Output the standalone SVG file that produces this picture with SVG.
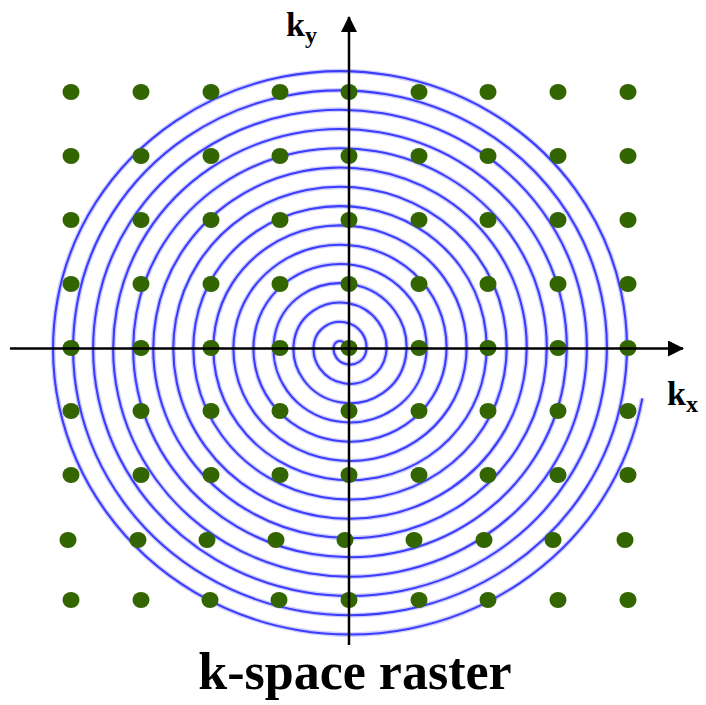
<svg xmlns="http://www.w3.org/2000/svg" width="706" height="705" viewBox="0 0 706 705">
<defs>
<style>
.halo{fill:none;stroke:#cfcfff;stroke-width:4.6}
.core{fill:none;stroke:#3c3cff;stroke-width:2}
.dot{fill:#336600}
.axis{stroke:#000;stroke-width:2.5;fill:none}
.lbl{font-family:"Liberation Serif","Times New Roman",serif;font-weight:bold;fill:#000}
</style>
<marker id="arr" viewBox="0 0 16 16" refX="15" refY="8" markerWidth="16" markerHeight="16" markerUnits="userSpaceOnUse" orient="auto">
<path d="M0,0 L16,8 L0,16 z" fill="#000"/>
</marker>
<path id="sp" d="M1.275,0 A6,6 0 0 0 -10.725,0 A15.45,15.45 0 0 0 20.175,0 A24.9,24.9 0 0 0 -29.625,0 A34.35,34.35 0 0 0 39.075,0 A43.8,43.8 0 0 0 -48.525,0 A53.25,53.25 0 0 0 57.975,0 A62.7,62.7 0 0 0 -67.425,0 A72.15,72.15 0 0 0 76.875,0 A81.6,81.6 0 0 0 -86.325,0 A91.05,91.05 0 0 0 95.775,0 A100.5,100.5 0 0 0 -105.225,0 A109.95,109.95 0 0 0 114.675,0 A119.4,119.4 0 0 0 -124.125,0 A128.85,128.85 0 0 0 133.575,0 A138.3,138.3 0 0 0 -143.025,0 A147.75,147.75 0 0 0 152.475,0 A157.2,157.2 0 0 0 -161.925,0 A166.65,166.65 0 0 0 171.375,0 A176.1,176.1 0 0 0 -180.825,0 A185.55,185.55 0 0 0 190.275,0 A195,195 0 0 0 -199.725,0 A204.45,204.45 0 0 0 209.175,0 A213.9,213.9 0 0 0 -218.625,0 A223.35,223.35 0 0 0 228.075,0 A232.8,232.8 0 0 0 -237.525,0 A242.25,242.25 0 0 0 246.975,0 A251.7,251.7 0 0 0 -256.425,0 A261.15,261.15 0 0 0 265.875,0 A270.6,270.6 0 0 0 -275.325,0 A280.05,280.05 0 0 0 284.775,0"/>
</defs>
<rect width="706" height="705" fill="#fff"/>
<g id="spiral" transform="translate(345,348) scale(1.06,1.02) rotate(10)">
<use href="#sp" class="halo"/>
<use href="#sp" class="core"/>
</g>
<g id="dots">
<g id="row1"><ellipse class="dot" cx="71" cy="92" rx="8.5" ry="8"/><ellipse class="dot" cx="141" cy="92" rx="8.5" ry="8"/><ellipse class="dot" cx="211" cy="92" rx="8.5" ry="8"/><ellipse class="dot" cx="280" cy="92" rx="8.5" ry="8"/><ellipse class="dot" cx="349" cy="92" rx="8.5" ry="8"/><ellipse class="dot" cx="419" cy="92" rx="8.5" ry="8"/><ellipse class="dot" cx="488" cy="92" rx="8.5" ry="8"/><ellipse class="dot" cx="558" cy="92" rx="8.5" ry="8"/><ellipse class="dot" cx="628" cy="92" rx="8.5" ry="8"/></g>
<g id="row2"><ellipse class="dot" cx="71" cy="156" rx="8.5" ry="8"/><ellipse class="dot" cx="141" cy="156" rx="8.5" ry="8"/><ellipse class="dot" cx="211" cy="156" rx="8.5" ry="8"/><ellipse class="dot" cx="280" cy="156" rx="8.5" ry="8"/><ellipse class="dot" cx="349" cy="156" rx="8.5" ry="8"/><ellipse class="dot" cx="419" cy="156" rx="8.5" ry="8"/><ellipse class="dot" cx="488" cy="156" rx="8.5" ry="8"/><ellipse class="dot" cx="558" cy="156" rx="8.5" ry="8"/><ellipse class="dot" cx="628" cy="156" rx="8.5" ry="8"/></g>
<g id="row3"><ellipse class="dot" cx="71" cy="220" rx="8.5" ry="8"/><ellipse class="dot" cx="141" cy="220" rx="8.5" ry="8"/><ellipse class="dot" cx="211" cy="220" rx="8.5" ry="8"/><ellipse class="dot" cx="280" cy="220" rx="8.5" ry="8"/><ellipse class="dot" cx="349" cy="220" rx="8.5" ry="8"/><ellipse class="dot" cx="419" cy="220" rx="8.5" ry="8"/><ellipse class="dot" cx="488" cy="220" rx="8.5" ry="8"/><ellipse class="dot" cx="558" cy="220" rx="8.5" ry="8"/><ellipse class="dot" cx="628" cy="220" rx="8.5" ry="8"/></g>
<g id="row4"><ellipse class="dot" cx="71" cy="284" rx="8.5" ry="8"/><ellipse class="dot" cx="141" cy="284" rx="8.5" ry="8"/><ellipse class="dot" cx="211" cy="284" rx="8.5" ry="8"/><ellipse class="dot" cx="280" cy="284" rx="8.5" ry="8"/><ellipse class="dot" cx="349" cy="284" rx="8.5" ry="8"/><ellipse class="dot" cx="419" cy="284" rx="8.5" ry="8"/><ellipse class="dot" cx="488" cy="284" rx="8.5" ry="8"/><ellipse class="dot" cx="558" cy="284" rx="8.5" ry="8"/><ellipse class="dot" cx="628" cy="284" rx="8.5" ry="8"/></g>
<g id="row5"><ellipse class="dot" cx="71" cy="348" rx="8.5" ry="8"/><ellipse class="dot" cx="141" cy="348" rx="8.5" ry="8"/><ellipse class="dot" cx="211" cy="348" rx="8.5" ry="8"/><ellipse class="dot" cx="280" cy="348" rx="8.5" ry="8"/><ellipse class="dot" cx="349" cy="348" rx="8.5" ry="8"/><ellipse class="dot" cx="419" cy="348" rx="8.5" ry="8"/><ellipse class="dot" cx="488" cy="348" rx="8.5" ry="8"/><ellipse class="dot" cx="558" cy="348" rx="8.5" ry="8"/><ellipse class="dot" cx="628" cy="348" rx="8.5" ry="8"/></g>
<g id="row6"><ellipse class="dot" cx="71" cy="411" rx="8.5" ry="8"/><ellipse class="dot" cx="141" cy="411" rx="8.5" ry="8"/><ellipse class="dot" cx="211" cy="411" rx="8.5" ry="8"/><ellipse class="dot" cx="280" cy="411" rx="8.5" ry="8"/><ellipse class="dot" cx="349" cy="411" rx="8.5" ry="8"/><ellipse class="dot" cx="419" cy="411" rx="8.5" ry="8"/><ellipse class="dot" cx="488" cy="411" rx="8.5" ry="8"/><ellipse class="dot" cx="558" cy="411" rx="8.5" ry="8"/><ellipse class="dot" cx="628" cy="411" rx="8.5" ry="8"/></g>
<g id="row7"><ellipse class="dot" cx="71" cy="475" rx="8.5" ry="8"/><ellipse class="dot" cx="141" cy="475" rx="8.5" ry="8"/><ellipse class="dot" cx="211" cy="475" rx="8.5" ry="8"/><ellipse class="dot" cx="280" cy="475" rx="8.5" ry="8"/><ellipse class="dot" cx="349" cy="475" rx="8.5" ry="8"/><ellipse class="dot" cx="419" cy="475" rx="8.5" ry="8"/><ellipse class="dot" cx="488" cy="475" rx="8.5" ry="8"/><ellipse class="dot" cx="558" cy="475" rx="8.5" ry="8"/><ellipse class="dot" cx="628" cy="475" rx="8.5" ry="8"/></g>
<g id="row8"><ellipse class="dot" cx="68" cy="540" rx="8.5" ry="8"/><ellipse class="dot" cx="138" cy="540" rx="8.5" ry="8"/><ellipse class="dot" cx="207" cy="540" rx="8.5" ry="8"/><ellipse class="dot" cx="276" cy="540" rx="8.5" ry="8"/><ellipse class="dot" cx="345" cy="540" rx="8.5" ry="8"/><ellipse class="dot" cx="414" cy="540" rx="8.5" ry="8"/><ellipse class="dot" cx="484" cy="540" rx="8.5" ry="8"/><ellipse class="dot" cx="553" cy="540" rx="8.5" ry="8"/><ellipse class="dot" cx="625" cy="540" rx="8.5" ry="8"/></g>
<g id="row9"><ellipse class="dot" cx="71" cy="600" rx="8.5" ry="8"/><ellipse class="dot" cx="141" cy="600" rx="8.5" ry="8"/><ellipse class="dot" cx="210" cy="600" rx="8.5" ry="8"/><ellipse class="dot" cx="279" cy="600" rx="8.5" ry="8"/><ellipse class="dot" cx="349" cy="600" rx="8.5" ry="8"/><ellipse class="dot" cx="419" cy="600" rx="8.5" ry="8"/><ellipse class="dot" cx="488" cy="600" rx="8.5" ry="8"/><ellipse class="dot" cx="558" cy="600" rx="8.5" ry="8"/><ellipse class="dot" cx="628" cy="600" rx="8.5" ry="8"/></g>
</g>
<g id="connectors">
<line class="axis" x1="10" y1="348.5" x2="683" y2="348.5" marker-end="url(#arr)"/>
<line class="axis" x1="349" y1="645" x2="349" y2="17" marker-end="url(#arr)"/>
</g>
<g id="labels">
<text class="lbl" x="286" y="36" font-size="34">k<tspan font-size="24" dy="7">y</tspan></text>
<text class="lbl" x="667" y="405" font-size="34">k<tspan font-size="24" dy="7">x</tspan></text>
<text class="lbl" x="355" y="689" font-size="52" text-anchor="middle">k-space raster</text>
</g>
</svg>
